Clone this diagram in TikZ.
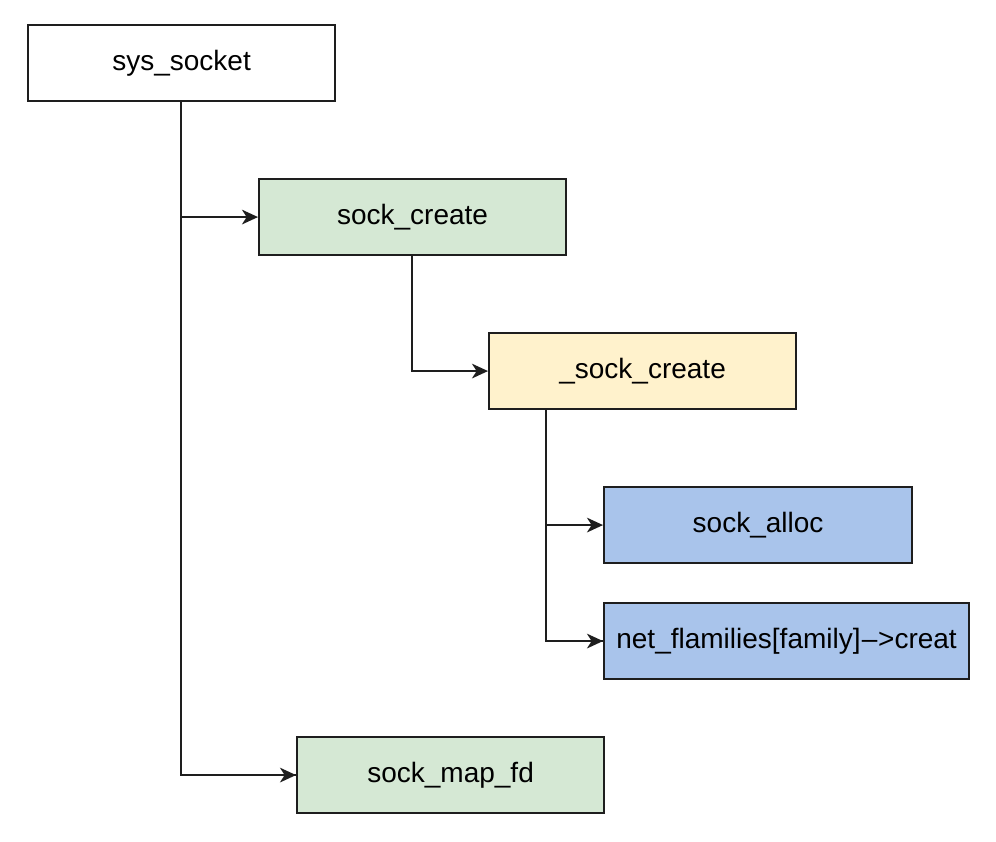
\documentclass[tikz,border=0pt]{standalone}
\usepackage{fontspec}
\setmainfont{Liberation Sans}
\usetikzlibrary{arrows.meta}
\definecolor{boxgreen}{HTML}{D5E8D4}
\definecolor{boxyellow}{HTML}{FFF2CC}
\definecolor{boxblue}{HTML}{A9C4EB}
\definecolor{edgecol}{HTML}{1E1E1E}
\tikzset{
  fbox/.style={draw=edgecol, line width=1.6pt, minimum width=#1*0.75pt, minimum height=76*0.75pt, inner sep=0pt, anchor=north west, font=\fontsize{21pt}{25pt}\selectfont},
  arrowline/.style={draw=edgecol, line width=1.6pt, -{Stealth[length=12pt,width=11pt,inset=3.5pt]}},
  wireline/.style={draw=edgecol, line width=1.6pt}
}
\begin{document}
\begin{tikzpicture}[x=0.75pt,y=-0.75pt]
\useasboundingbox (0,0) rectangle (996,842);
\node[fbox=307, fill=white] (sys) at (27,24) {sys\_socket};
\node[fbox=307, fill=boxgreen] (sc) at (258,178) {sock\_create};
\node[fbox=307, fill=boxyellow] (usc) at (488,332) {\_sock\_create};
\node[fbox=308, fill=boxblue] (alloc) at (603,486) {sock\_alloc};
\node[fbox=365, fill=boxblue] (net) at (603,602) {net\_flamilies[family]{\kern1pt}–{\kern0.5pt}>creat};
\node[fbox=307, fill=boxgreen] (map) at (296,736) {sock\_map\_fd};
\coordinate (t1) at (181,101);
\coordinate (t2) at (412,255);
\coordinate (t3) at (546,409);
\draw[wireline] (t1) |- (map.west);
\draw[arrowline] (t1 |- sc.west) -- (sc.west);
\draw[arrowline] (t1 |- map.west) -- (map.west);
\draw[arrowline] (t2) |- (usc.west);
\draw[wireline] (t3) |- (net.west);
\draw[arrowline] (t3 |- alloc.west) -- (alloc.west);
\draw[arrowline] (t3 |- net.west) -- (net.west);
\end{tikzpicture}
\end{document}
